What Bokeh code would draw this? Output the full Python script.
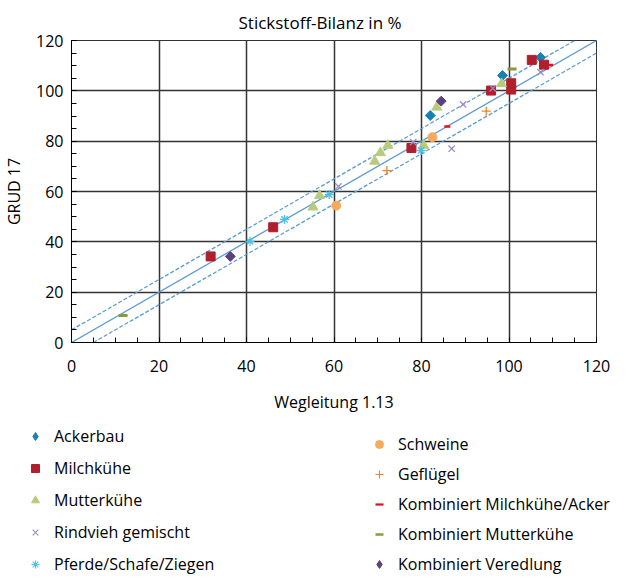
import math
from bokeh.plotting import figure
from bokeh.layouts import column
from bokeh.models import Legend, LegendItem, SingleIntervalTicker, Range1d
from bokeh.embed import file_html
from bokeh.resources import INLINE

# ---- data ----
ackerbau_x = [82.0, 98.5, 107.2]
ackerbau_y = [90.2, 106.1, 113.3]
milch_x = [31.8, 46.1, 77.7, 95.9, 100.5, 100.5, 105.2, 108.0]
milch_y = [34.2, 45.8, 77.3, 100.1, 100.5, 103.0, 112.3, 110.4]
mutter_x = [55.2, 56.7, 69.3, 70.6, 72.3, 80.5, 83.5, 98.3]
mutter_y = [53.8, 58.4, 72.0, 75.4, 78.3, 78.3, 93.5, 102.8]
rind_x = [61.0, 78.1, 86.9, 89.5, 96.3, 107.2]
rind_y = [62.0, 79.6, 77.0, 94.6, 101.0, 107.4]
pferde_x = [40.8, 48.7, 58.9, 79.9]
pferde_y = [40.2, 48.9, 58.8, 76.3]
schweine_x = [60.5, 82.5]
schweine_y = [54.4, 81.6]
gefluegel_x = [72.1, 94.8]
gefluegel_y = [68.3, 91.9]
komb_ma_x = [85.9, 109.4]
komb_ma_y = [85.8, 110.3]
komb_mu_x = [11.8, 100.7]
komb_mu_y = [10.7, 108.7]
komb_ver_x = [36.3, 84.5]
komb_ver_y = [34.2, 95.9]

labels_left = ["Ackerbau", "Milchkühe", "Mutterkühe", "Rindvieh gemischt",
               "Pferde/Schafe/Ziegen"]
labels_right = ["Schweine", "Geflügel", "Kombiniert Milchkühe/Acker",
                "Kombiniert Mutterkühe", "Kombiniert Veredlung"]

# reference lines: y = x and +/- 5 band
line_x = [0, 120]
line_y = [0, 120]
upper_x = [0, 115]
upper_y = [5, 120]
lower_x = [5, 120]
lower_y = [0, 115]

FONT = "Open Sans"
DIAMOND = math.pi / 4

C_ACK, C_MIL, C_MUT, C_RIN, C_PFE = "#1482B5", "#B11E2C", "#B8CB7C", "#9C8BC2", "#4CC2E2"
C_SCH, C_GEF, C_KMA, C_KMU, C_KVE = "#F7AA5C", "#EC8526", "#E2101C", "#8A9A3C", "#5C4180"

styles = [
    dict(marker="square", angle=DIAMOND, size=7, fill_color=C_ACK, line_color=C_ACK),
    dict(marker="square", size=9, fill_color=C_MIL, line_color=C_MIL),
    dict(marker="triangle", size=10, fill_color=C_MUT, line_color=C_MUT),
    dict(marker="x", size=9, line_color=C_RIN, line_width=1.3),
    dict(marker="asterisk", size=9, line_color=C_PFE, line_width=1.3),
    dict(marker="circle", size=9, fill_color=C_SCH, line_color=C_SCH),
    dict(marker="cross", size=9, line_color=C_GEF, line_width=1.3),
    dict(marker="dash", size=6, line_color=C_KMA, line_width=2.5),
    dict(marker="dash", size=9, line_color=C_KMU, line_width=3),
    dict(marker="square", angle=DIAMOND, size=7, fill_color=C_KVE, line_color=C_KVE),
]
# smaller glyphs for the legend
legend_styles = [
    dict(marker="diamond", size=9, fill_color=C_ACK, line_color=C_ACK),
    dict(marker="square", size=7, fill_color=C_MIL, line_color=C_MIL),
    dict(marker="triangle", size=8, fill_color=C_MUT, line_color=C_MUT),
    dict(marker="x", size=7, line_color=C_RIN, line_width=1.1),
    dict(marker="asterisk", size=7, line_color=C_PFE, line_width=1.1),
    dict(marker="circle", size=7, fill_color=C_SCH, line_color=C_SCH),
    dict(marker="cross", size=7, line_color=C_GEF, line_width=1.1),
    dict(marker="dash", size=5, line_color=C_KMA, line_width=2.2),
    dict(marker="dash", size=8, line_color=C_KMU, line_width=2.5),
    dict(marker="diamond", size=9, fill_color=C_KVE, line_color=C_KVE),
]
series = [
    (ackerbau_x, ackerbau_y), (milch_x, milch_y), (mutter_x, mutter_y),
    (rind_x, rind_y), (pferde_x, pferde_y), (schweine_x, schweine_y),
    (gefluegel_x, gefluegel_y), (komb_ma_x, komb_ma_y), (komb_mu_x, komb_mu_y),
    (komb_ver_x, komb_ver_y),
]

# ---------------- main chart ----------------
p = figure(width=614, height=425, output_backend="svg", toolbar_location=None,
           x_range=Range1d(0, 120), y_range=Range1d(0, 120),
           min_border_left=62, min_border_right=18, min_border_top=40,
           min_border_bottom=83)
p.frame_align = False
p.background_fill_color = "white"
p.border_fill_color = "white"
p.outline_line_color = "#333333"

p.title.text = "Stickstoff-Bilanz in %"
p.title.text_font = FONT
p.title.text_font_size = "17px"
p.title.text_font_style = "normal"
p.title.text_color = "black"
p.title.align = "left"
p.title.offset = 167
p.title.standoff = 14

ticker = SingleIntervalTicker(interval=20, num_minor_ticks=4)
for ax in (p.xaxis[0], p.yaxis[0]):
    ax.ticker = ticker
    ax.major_label_text_font = FONT
    ax.major_label_text_font_size = "16px"
    ax.axis_label_text_font = FONT
    ax.axis_label_text_font_size = "16px"
    ax.axis_label_text_font_style = "normal"
    ax.major_tick_in = 5
    ax.major_tick_out = 0
    ax.minor_tick_in = 5
    ax.minor_tick_out = 0
    ax.axis_line_color = "black"
    ax.major_tick_line_color = "black"
    ax.minor_tick_line_color = "black"
    ax.major_label_text_color = "black"
    ax.axis_label_text_color = "black"

p.xaxis.axis_label = "Wegleitung 1.13"
p.yaxis.axis_label = "GRUD 17"
p.xaxis.major_label_standoff = 17
p.yaxis.major_label_standoff = 8
p.xaxis.axis_label_standoff = 16
p.yaxis.axis_label_standoff = 8

p.xgrid.ticker = ticker
p.ygrid.ticker = ticker
for g in (p.xgrid[0], p.ygrid[0]):
    g.grid_line_color = "#333333"
    g.grid_line_width = 1.5
    g.grid_line_alpha = 1.0

LINE_COL = "#5B9BD5"
p.line(line_x, line_y, line_color=LINE_COL, line_width=1.3)
p.line(upper_x, upper_y, line_color=LINE_COL, line_width=1.3, line_dash="4 2")
p.line(lower_x, lower_y, line_color=LINE_COL, line_width=1.3, line_dash="4 2")

for (sx, sy), st in zip(series, styles):
    p.scatter(sx, sy, **st)

# ---------------- legend panel ----------------
# ranges chosen so the series themselves fall outside; only the legend shows
q = figure(width=614, height=150, output_backend="svg", toolbar_location=None,
           x_range=Range1d(-2, -1), y_range=Range1d(-2, -1),
           x_axis_type=None, y_axis_type=None,
           min_border_left=0, min_border_right=0, min_border_top=0,
           min_border_bottom=0)
q.frame_align = False
q.outline_line_color = None
q.grid.visible = False

leg_renderers = [q.scatter(sx, sy, **st) for (sx, sy), st in zip(series, legend_styles)]


def make_legend(labels, renderers, loc, spacing):
    lg = Legend(items=[LegendItem(label=l, renderers=[r]) for l, r in zip(labels, renderers)],
                location=loc, orientation="vertical")
    lg.background_fill_alpha = 0
    lg.border_line_alpha = 0
    lg.padding = 0
    lg.margin = 0
    lg.glyph_width = 20
    lg.glyph_height = 20
    lg.label_height = 20
    lg.label_standoff = 9
    lg.spacing = spacing
    lg.label_text_font = FONT
    lg.label_text_font_size = "16px"
    lg.label_text_color = "black"
    return lg


q.add_layout(make_legend(labels_left, leg_renderers[:5], (25, 0), 10), "center")
q.add_layout(make_legend(labels_right, leg_renderers[5:], (369, 0), 8), "center")

open("out.html", "w").write(file_html(column(p, q, spacing=0), INLINE))
